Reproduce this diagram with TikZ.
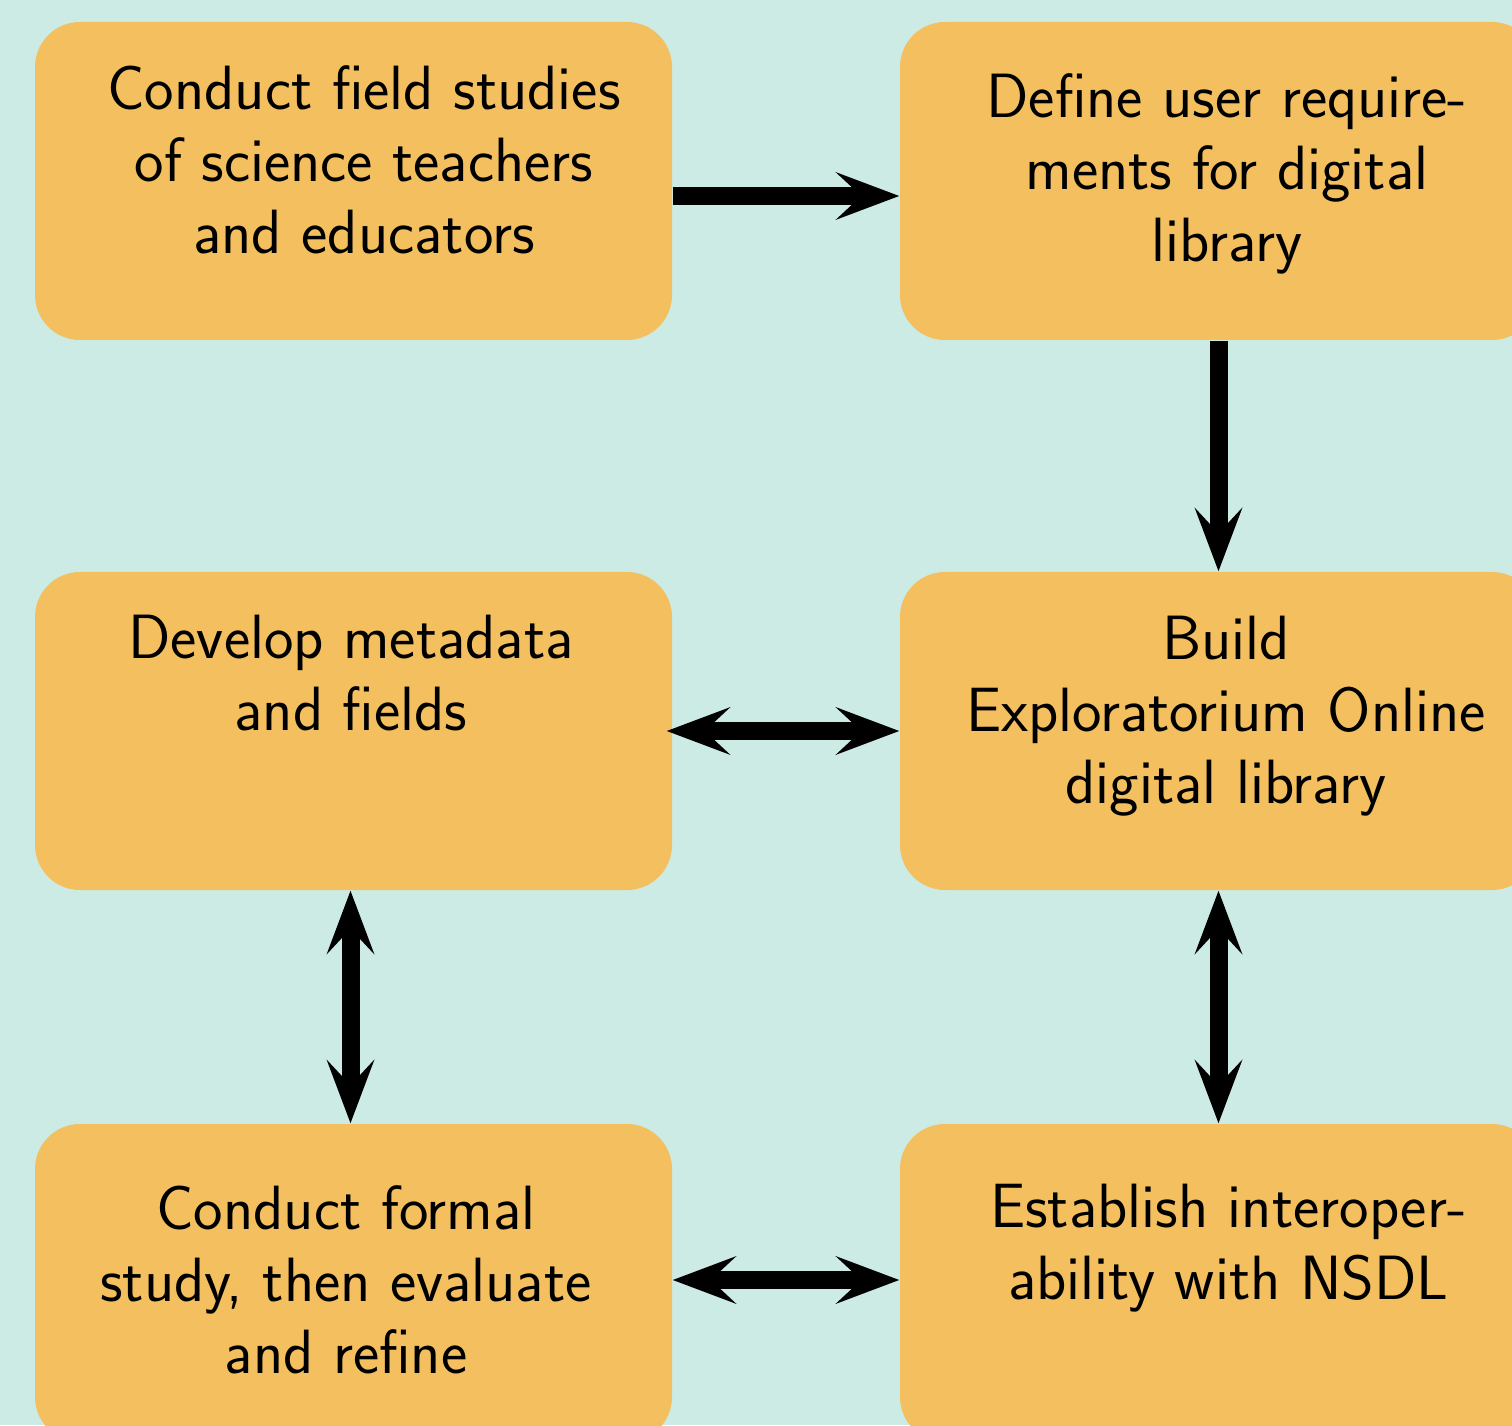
\documentclass[tikz,border=0pt]{standalone}
\usepackage{fontspec}
\usepackage{tikz}
\usetikzlibrary{arrows.meta}
\usepackage{xcolor}
\definecolor{boxorange}{RGB}{243,191,95}
\definecolor{paleteal}{RGB}{204,235,229}

\begin{document}
\begin{tikzpicture}[
  stepbox/.style={fill=boxorange, rounded corners=0.45cm, minimum width=6.37cm, minimum height=3.18cm, inner sep=0pt},
  steptext/.style={anchor=north, align=center, inner sep=0pt, font=\sffamily\fontsize{17.8}{20.5}\selectfont},
  flow/.style={line width=0.18cm, -{Stealth[length=0.63cm,width=0.47cm,inset=0.25cm]}},
  twoway/.style={line width=0.18cm, {Stealth[length=0.63cm,width=0.47cm,inset=0.25cm]}-{Stealth[length=0.63cm,width=0.47cm,inset=0.25cm]}}
]
\clip (0,0) rectangle (15.12,14.25);
\fill [paleteal] (0,0) rectangle (15.12,14.25);
% boxes
\node [stepbox] (field) at (3.535,12.44) {};
\node [stepbox] (define) at (12.185,12.44) {};
\node [stepbox] (meta) at (3.535,6.94) {};
\node [stepbox] (build) at (12.185,6.94) {};
\node [stepbox] (formal) at (3.535,1.42) {};
\node [stepbox] (nsdl) at (12.185,1.42) {};
% texts
\node [steptext] (fieldtext) at (3.64,13.6) {Conduct field studies\\of science teachers\\and educators};
\node [steptext] (definetext) at (12.27,13.52) {Define user require-\\ments for digital\\library};
\node [steptext] (metatext) at (3.51,8.11) {Develop metadata\\and fields};
\node [steptext] (buildtext) at (12.26,8.1) {Build\\Exploratorium Online\\digital library};
\node [steptext] (formaltext) at (3.46,2.4) {Conduct formal\\study, then evaluate\\and refine};
\node [steptext] (nsdltext) at (12.285,2.42) {Establish interoper-\\ability with NSDL};
% arrows
\draw [flow] ([yshift=-0.15cm]field.east) -- ([yshift=-0.15cm]define.west);
\draw [flow] (define.south) -- (build.north);
\draw [twoway] ([xshift=-0.06cm]meta.east) -- (build.west);
\draw [twoway] ([xshift=-0.03cm]meta.south) -- ([xshift=-0.03cm]formal.north);
\draw [twoway] (build.south) -- (nsdl.north);
\draw [twoway] ([yshift=0.03cm]formal.east) -- ([yshift=0.03cm]nsdl.west);
\end{tikzpicture}
\end{document}
